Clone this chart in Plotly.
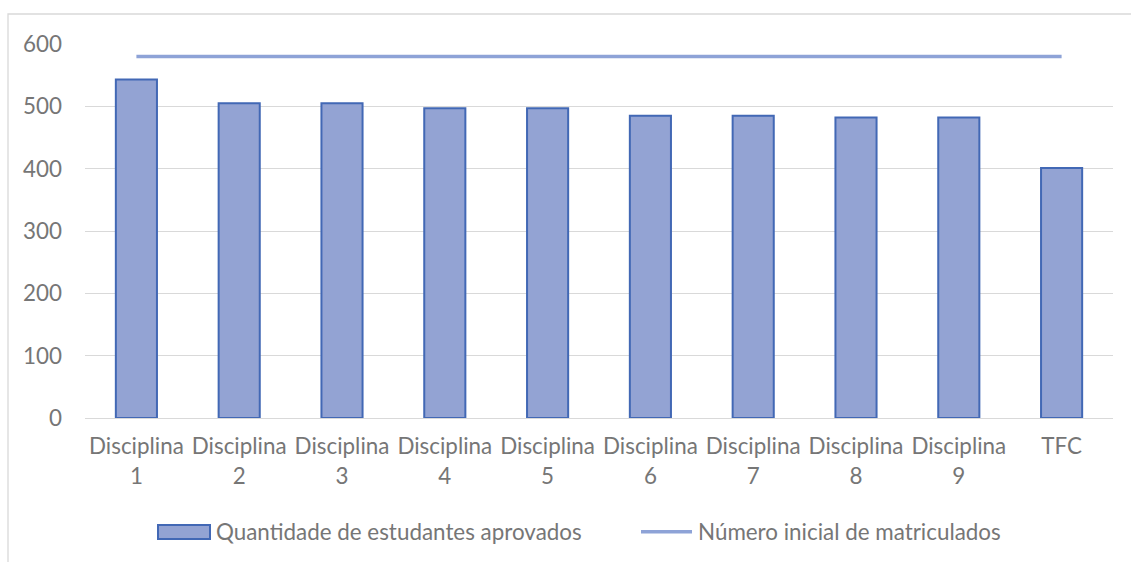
import plotly.graph_objects as go

# Data
categories = ["Disciplina<br>1", "Disciplina<br>2", "Disciplina<br>3", "Disciplina<br>4",
              "Disciplina<br>5", "Disciplina<br>6", "Disciplina<br>7", "Disciplina<br>8",
              "Disciplina<br>9", "TFC"]
aprovados = [543, 505, 505, 497, 497, 485, 485, 482, 482, 401]
matriculados = [580] * len(categories)
y_ticks = [0, 100, 200, 300, 400, 500, 600]

bar_name = "Quantidade de estudantes aprovados"
line_name = "Número inicial de matriculados"

W, H = 1131, 562
L, R, T, B = 85, 18, 44, 144
FONT = "Lato"
FSIZE = 22.4
TEXT = "#767676"
BAR_FILL = "#93a3d3"
BAR_EDGE = "#4268b5"
LINE_COL = "#8ea3d7"

fig = go.Figure()
fig.add_trace(go.Bar(
    x=categories, y=aprovados, name=bar_name,
    marker=dict(color=BAR_FILL, line=dict(color=BAR_EDGE, width=2)),
    showlegend=False,
))
fig.add_trace(go.Scatter(
    x=categories, y=matriculados, name=line_name, mode="lines",
    line=dict(color=LINE_COL, width=3.5),
    showlegend=False,
))

pw, ph = W - L - R, H - T - B


def px(xp):
    return (xp - L) / pw


def py(yp):
    return (H - B - yp) / ph


# chart frame (top and left edges visible)
fig.add_shape(type="rect", xref="paper", yref="paper",
              x0=px(8), x1=px(W + 20), y0=py(H + 20), y1=py(14),
              line=dict(color="#d9d9d9", width=1.3), fillcolor="rgba(0,0,0,0)",
              layer="below")

# legend drawn beneath the plot
fig.add_shape(type="rect", xref="paper", yref="paper",
              x0=px(158), x1=px(210), y0=py(539), y1=py(525),
              line=dict(color=BAR_EDGE, width=2), fillcolor=BAR_FILL)
fig.add_annotation(xref="paper", yref="paper", x=px(214), y=py(531.5),
                   text=bar_name, showarrow=False, xanchor="left", yanchor="middle",
                   font=dict(family=FONT, size=FSIZE, color=TEXT))
fig.add_shape(type="line", xref="paper", yref="paper",
              x0=px(641), x1=px(692), y0=py(531.7), y1=py(531.7),
              line=dict(color=LINE_COL, width=3.5))
fig.add_annotation(xref="paper", yref="paper", x=px(696), y=py(531.5),
                   text=line_name, showarrow=False, xanchor="left", yanchor="middle",
                   font=dict(family=FONT, size=FSIZE, color=TEXT))

fig.update_layout(
    width=W, height=H,
    margin=dict(l=L, r=R, t=T, b=B, pad=0),
    paper_bgcolor="white", plot_bgcolor="white",
    bargap=0.6,
    font=dict(family=FONT, size=FSIZE, color=TEXT),
    xaxis=dict(showgrid=False, showline=False, ticks="", zeroline=False,
               tickfont=dict(family=FONT, size=FSIZE, color=TEXT),
               ticklabelstandoff=13),
    yaxis=dict(range=[0, 600], tickvals=y_ticks, showgrid=True,
               gridcolor="#d9d9d9", gridwidth=1.4, zeroline=True,
               zerolinecolor="#d9d9d9", zerolinewidth=1.4, showline=False,
               ticks="", tickfont=dict(family=FONT, size=FSIZE, color=TEXT),
               ticklabelstandoff=22),
)

fig.write_html("out.html")
